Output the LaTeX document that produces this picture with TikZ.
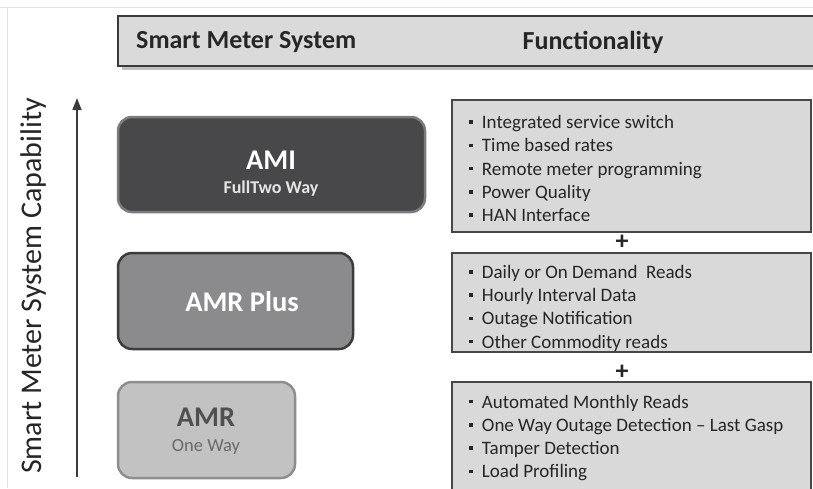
\documentclass[tikz,border=0pt]{standalone}
\usepackage{fontspec}
\setmainfont{Carlito}
\usetikzlibrary{arrows.meta}
\definecolor{frameline}{HTML}{E4E4E4}
\definecolor{headfill}{HTML}{DADADB}
\definecolor{headline}{HTML}{3A3A3A}
\definecolor{txtdark}{HTML}{262626}
\definecolor{amifill}{HTML}{48484A}
\definecolor{amiline}{HTML}{7C7C7C}
\definecolor{plusfill}{HTML}{8B8B8D}
\definecolor{plusline}{HTML}{3C3C3C}
\definecolor{amrfill}{HTML}{C2C2C2}
\definecolor{amrline}{HTML}{8E8E8E}
\definecolor{amrtxt}{HTML}{505050}
\definecolor{amrsub}{HTML}{6A6A6A}
\definecolor{funcfill}{HTML}{D9D9D9}
\definecolor{funcline}{HTML}{474747}
\newcommand\sqbul{\raisebox{0.24em}{\rule{0.19em}{0.19em}}\hspace{0.48em}}
\begin{document}
\begin{tikzpicture}[x=1pt,y=-1pt,
  headbox/.style={draw=headline,fill=headfill,line width=2.5pt,minimum width=712pt,minimum height=50pt,inner sep=0pt},
  headtxt/.style={text=txtdark,font=\bfseries\fontsize{26}{30}\selectfont,inner sep=0pt},
  sysbox/.style={rounded corners=14pt,line width=2.5pt,minimum height=95pt,inner sep=0pt},
  systitle/.style={font=\bfseries\fontsize{28.5}{32}\selectfont,inner sep=0pt},
  syssub/.style={font=\fontsize{18.5}{22}\selectfont,inner sep=0pt},
  funcbox/.style={draw=funcline,fill=funcfill,line width=2.2pt,minimum width=359pt,inner sep=0pt},
  functxt/.style={text=txtdark,font=\fontsize{19}{23.3}\selectfont,align=left,anchor=west,inner sep=0pt},
  plussign/.style={text=txtdark,font=\bfseries\fontsize{26}{28}\selectfont,inner sep=0pt},
  axisline/.style={draw=txtdark!90,line width=1.6pt,-{Triangle[length=12pt,width=9pt]}}
]
\clip (0,0) rectangle (813,488);
\fill[white] (0,0) rectangle (813,488);
\draw[frameline,line width=1pt] (0,7) -- (813,7);
\draw[frameline,line width=1pt] (7,7) -- (7,488);

% header
\fill[black!25] (122,20) rectangle (830,70);
\node[headbox] (head) at (474,41) {};
\node[headtxt,anchor=west] (hsys) at (136,42) {Smart Meter System};
\node[headtxt] (hfun) at (593,42) {Functionality};

% axis
\node[rotate=90,text=txtdark,font=\fontsize{30}{34}\selectfont,inner sep=0pt] (ylab) at (34,286) {Smart Meter System Capability};
\coordinate (abot) at (77,477);
\coordinate (atop) at (77,98);
\draw[axisline] (abot) -- (atop);

% system boxes
\node[sysbox,draw=amiline,fill=amifill,minimum width=307pt] (ami) at (271.5,164.5) {};
\node[systitle,text=white] (amit) at (271,160) {AMI};
\node[syssub,text=white!90!black,font=\bfseries\fontsize{18}{22}\selectfont] (amis) at (271,189) {FullTwo Way};

\node[sysbox,draw=plusline,fill=plusfill,minimum width=235pt,minimum height=96pt] (amrp) at (235.5,301) {};
\node[systitle,text=white] (amrpt) at (242,302) {AMR Plus};

\node[sysbox,draw=amrline,fill=amrfill,minimum width=177pt,minimum height=96pt] (amr) at (206.5,430) {};
\node[systitle,text=amrtxt] (amrt) at (206,417) {AMR};
\node[syssub,text=amrsub] (amrs) at (206,447) {One Way};

% functionality boxes
\node[funcbox,minimum height=132pt] (f1) at (631.5,166) {};
\node[functxt] (f1t) at (469,168.5) {\sqbul Integrated service switch\\ \sqbul Time based rates\\ \sqbul Remote meter programming\\ \sqbul Power Quality\\ \sqbul HAN Interface};
\node[plussign] (p1) at (622,242) {+};
\node[funcbox,minimum height=99pt] (f2) at (631.5,302.5) {};
\node[functxt] (f2t) at (469,308) {\sqbul Daily or On Demand\ \ Reads\\ \sqbul Hourly Interval Data\\ \sqbul Outage Notification\\ \sqbul Other Commodity reads};
\node[plussign] (p2) at (622,372) {+};
\node[funcbox,minimum height=113pt] (f3) at (631.5,438.5) {};
\node[functxt] (f3t) at (469,438) {\sqbul Automated Monthly Reads\\ \sqbul One Way Outage Detection -- Last Gasp\\ \sqbul Tamper Detection\\ \sqbul Load Profiling};
\end{tikzpicture}
\end{document}
